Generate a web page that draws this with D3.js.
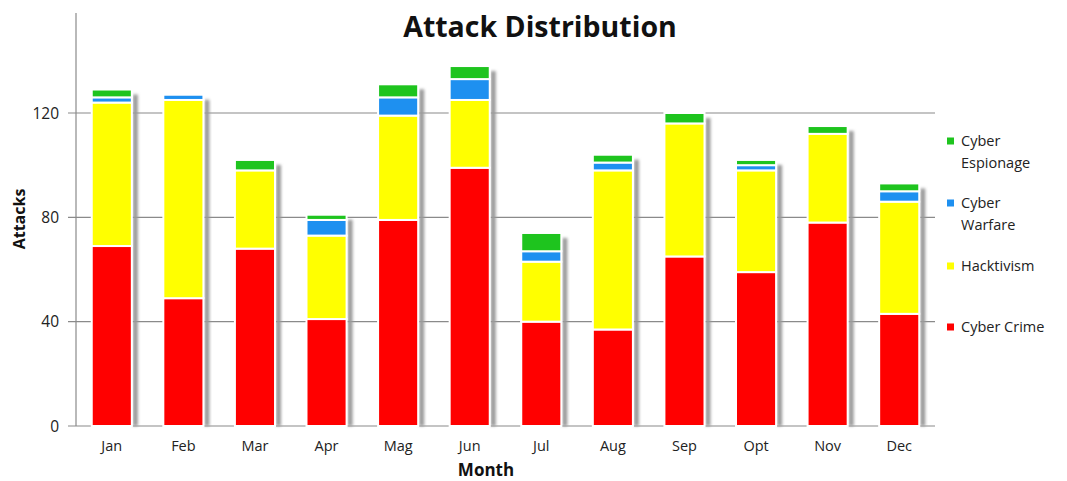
<!DOCTYPE html>
<html><head><meta charset="utf-8">
<script src="https://cdn.jsdelivr.net/npm/d3@7"></script>
<style>body{margin:0;background:#fff;}svg{display:block;}</style>
</head><body>
<svg id="chart" width="1067" height="481"></svg>
<script>
const months = ["Jan","Feb","Mar","Apr","Mag","Jun","Jul","Aug","Sep","Opt","Nov","Dec"];
const cyberCrime   = [69, 49, 68, 41, 79, 99, 40, 37, 65, 59, 78, 43];
const hacktivism   = [55, 76, 30, 32, 40, 26, 23, 61, 51, 39, 34, 43];
const cyberWarfare = [ 2,  2,  0,  6,  7,  8,  4,  3,  0,  2,  0,  4];
const cyberEspionage=[ 3,  0,  4,  2,  5,  5,  7,  3,  4,  2,  3,  3];
const seriesNames = ["Cyber Crime","Hacktivism","Cyber Warfare","Cyber Espionage"];
const seriesColors = ["#ff0000","#ffff00","#1e90f0","#1ec41e"];
const yTicks = [0, 40, 80, 120];

const svg = d3.select("#chart");
const font = "'Open Sans', sans-serif";
const x0 = 76, x1 = 935, yBase = 426, yTop = 13;

const x = d3.scaleBand().domain(months).range([x0, x1]).paddingInner(0.44).paddingOuter(0.22);
const y = d3.scaleLinear().domain([0, 120]).range([yBase, 113]);

const table = months.map((m, i) => ({
  month: m,
  "Cyber Crime": cyberCrime[i],
  "Hacktivism": hacktivism[i],
  "Cyber Warfare": cyberWarfare[i],
  "Cyber Espionage": cyberEspionage[i]
}));
const stack = d3.stack().keys(seriesNames)(table);

const defs = svg.append("defs");
defs.append("filter").attr("id","blur").attr("x","-50%").attr("width","200%")
  .append("feGaussianBlur").attr("stdDeviation", 1.6);

// gridlines
svg.append("g").selectAll("line").data(yTicks).join("line")
  .attr("x1", x0 - 8).attr("x2", x1)
  .attr("y1", d => y(d)).attr("y2", d => y(d))
  .attr("stroke", "#8a8a8a").attr("stroke-width", 1.2);

// y axis line
svg.append("line").attr("x1", x0).attr("x2", x0).attr("y1", yTop).attr("y2", yBase)
  .attr("stroke", "#8a8a8a").attr("stroke-width", 1.2);

// tick labels
svg.append("g").selectAll("text").data(yTicks).join("text")
  .attr("x", 59).attr("y", d => y(d) + 5.5)
  .attr("text-anchor", "end").attr("font-family", font).attr("font-size", 15.5)
  .attr("fill", "#222").text(d => d);

// shadows
const totals = months.map((m, i) => cyberCrime[i] + hacktivism[i] + cyberWarfare[i] + cyberEspionage[i]);
svg.append("g").selectAll("rect").data(months).join("rect")
  .attr("x", d => x(d) + x.bandwidth() + 1)
  .attr("y", (d, i) => y(totals[i]) + 5)
  .attr("width", 5)
  .attr("height", (d, i) => yBase - y(totals[i]) - 5)
  .attr("fill", "#9a9a9a").attr("filter", "url(#blur)");

// bars
svg.append("g").selectAll("g").data(stack).join("g")
  .attr("fill", (d, i) => seriesColors[i])
  .selectAll("rect").data(d => d.filter(s => s[1] - s[0] > 0)).join("rect")
  .attr("x", d => x(d.data.month))
  .attr("y", d => y(d[1]))
  .attr("width", x.bandwidth())
  .attr("height", d => y(d[0]) - y(d[1]))
  .attr("stroke", "#fff").attr("stroke-width", 2);

// month labels
svg.append("g").selectAll("text").data(months).join("text")
  .attr("x", d => x(d) + x.bandwidth() / 2).attr("y", 451)
  .attr("text-anchor", "middle").attr("font-family", font).attr("font-size", 14.5)
  .attr("fill", "#222").text(d => d);

// titles
svg.append("text").attr("x", 540).attr("y", 37).attr("text-anchor", "middle")
  .attr("font-family", font).attr("font-weight", "bold").attr("font-size", 28.5)
  .attr("fill", "#111").text("Attack Distribution");
svg.append("text").attr("x", 486).attr("y", 476).attr("text-anchor", "middle")
  .attr("font-family", font).attr("font-weight", "bold").attr("font-size", 17)
  .attr("fill", "#111").text("Month");
svg.append("text").attr("transform", "translate(25,219) rotate(-90)").attr("text-anchor", "middle")
  .attr("font-family", font).attr("font-weight", "bold").attr("font-size", 16)
  .attr("fill", "#111").text("Attacks");

// legend
const legendItems = [
  {name: "Cyber Espionage", lines: ["Cyber", "Espionage"], color: seriesColors[3], y: 141},
  {name: "Cyber Warfare", lines: ["Cyber", "Warfare"], color: seriesColors[2], y: 203},
  {name: "Hacktivism", lines: ["Hacktivism"], color: seriesColors[1], y: 266},
  {name: "Cyber Crime", lines: ["Cyber Crime"], color: seriesColors[0], y: 327}
];
const lg = svg.append("g").selectAll("g").data(legendItems).join("g")
  .attr("transform", d => `translate(947,${d.y})`);
lg.append("rect").attr("x", 0).attr("y", -3.5).attr("width", 7).attr("height", 7)
  .attr("fill", d => d.color);
lg.append("text").attr("font-family", font).attr("font-size", 14.5).attr("fill", "#222")
  .selectAll("tspan").data(d => d.lines).join("tspan")
  .attr("x", 14).attr("y", (d, i) => 5 + i * 22).text(d => d);
</script>
</body></html>
